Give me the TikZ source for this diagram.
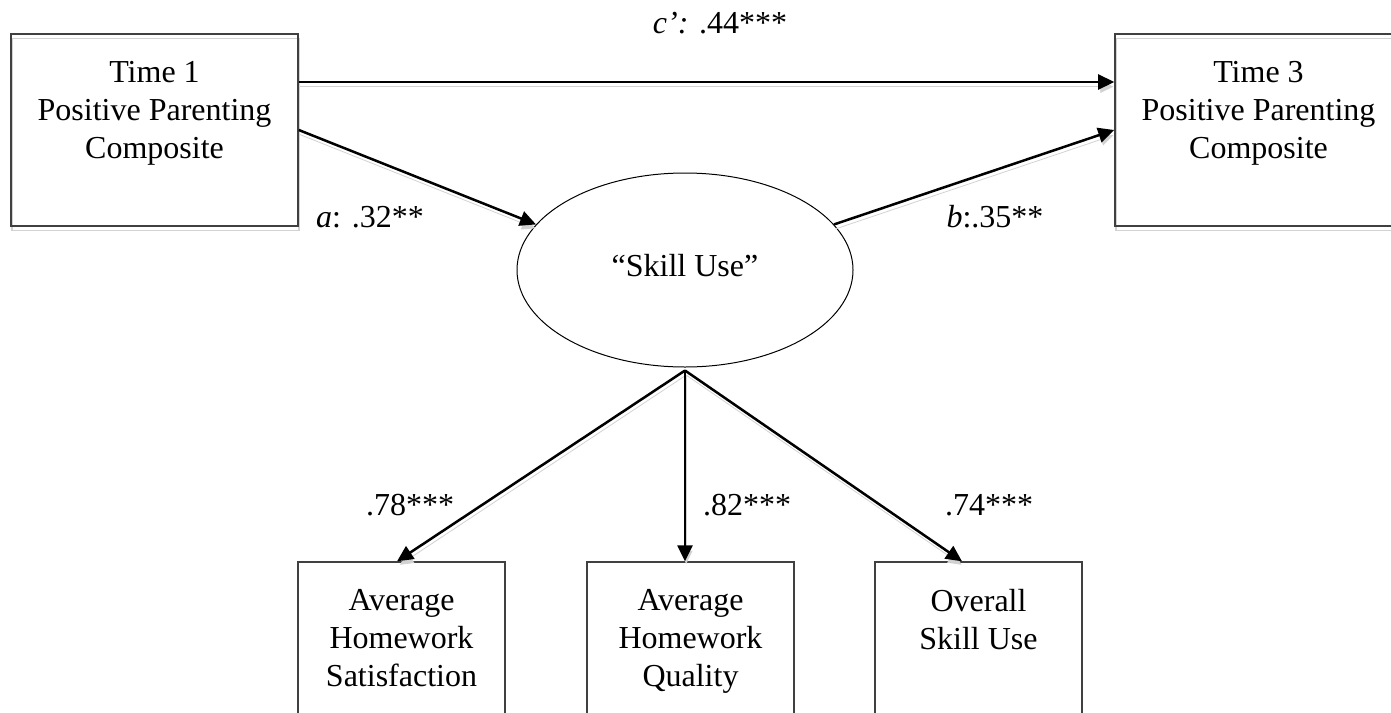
\documentclass[tikz,border=0pt]{standalone}
\usepackage{fontspec}
\setmainfont{Liberation Serif}
\usetikzlibrary{positioning,shapes.geometric,arrows.meta}
\tikzset{
  every node/.style={font=\fontsize{16}{18.9}\selectfont},
  shade line/.style={preaction={draw=gray!35, transform canvas={shift={(0.6pt,-2.3pt)}}}},
  semarrow/.style={line width=1.25pt, -{Triangle[length=8pt,width=7.5pt]}, shade line},
  bigbox/.style={draw=black!75, line width=0.8pt, minimum width=143.5pt, minimum height=96pt, inner sep=0pt, shade line},
  smallbox/.style={draw=black!75, line width=0.7pt, minimum width=103.5pt, minimum height=100pt, inner sep=0pt},
  boxtext/.style={align=center, inner sep=0pt, anchor=north},
  latent/.style={draw, ellipse, line width=0.5pt, minimum width=168pt, minimum height=97pt, inner sep=0pt, text depth=5pt},
  coef/.style={inner sep=0pt}
}
\begin{document}
\begin{tikzpicture}[x=0.5pt,y=-0.5pt]
  \useasboundingbox (0,0) rectangle (1391,712);
  \clip (0,0) rectangle (1391,712);
  % boxes and latent variable
  \node[bigbox] (t1) at (154.5,130) {};
  \node[boxtext, below=14pt of t1.north] (t1txt) {Time 1\\Positive Parenting\\Composite};
  \node[bigbox] (t3) at (1258.5,130) {};
  \node[boxtext, below=14pt of t3.north] (t3txt) {Time 3\\Positive Parenting\\Composite};
  \node[latent] (su) at (685,270) {“Skill Use”};
  \node[smallbox] (b1) at (401.5,662) {};
  \node[boxtext, below=14pt of b1.north] (b1txt) {Average\\Homework\\Satisfaction};
  \node[smallbox] (b2) at (690.5,662) {};
  \node[boxtext, below=14pt of b2.north] (b2txt) {Average\\Homework\\Quality};
  \node[smallbox] (b3) at (978.5,662) {};
  \node[boxtext, below=14pt of b3.north] (b3txt) {Overall\\Skill Use};
  \coordinate (fork) at ([yshift=-1.5pt]su.south);
  % paths
  \draw[semarrow] ([yshift=24pt]t1.east) -- ([yshift=24pt]t3.west);
  \draw[semarrow] (t1.east) -- (su.163);
  \draw[semarrow] (su.17) -- (t3.west);
  \draw[semarrow] (fork) -- ([xshift=-2.25pt]b1.north);
  \draw[semarrow] (fork) -- ([xshift=-2.75pt]b2.north);
  \draw[semarrow] (fork) -- ([xshift=-8.25pt]b3.north);
  % coefficients
  \node[coef] (lc) at (720,23) {\textit{c’:} .44***};
  \node[coef] (la) at (370,217) {\textit{a}: .32**};
  \node[coef] (lb) at (995,217) {\textit{b}:.35**};
  \node[coef] (l1) at (410,505) {.78***};
  \node[coef] (l2) at (747,505) {.82***};
  \node[coef] (l3) at (989,505) {.74***};
\end{tikzpicture}
\end{document}
